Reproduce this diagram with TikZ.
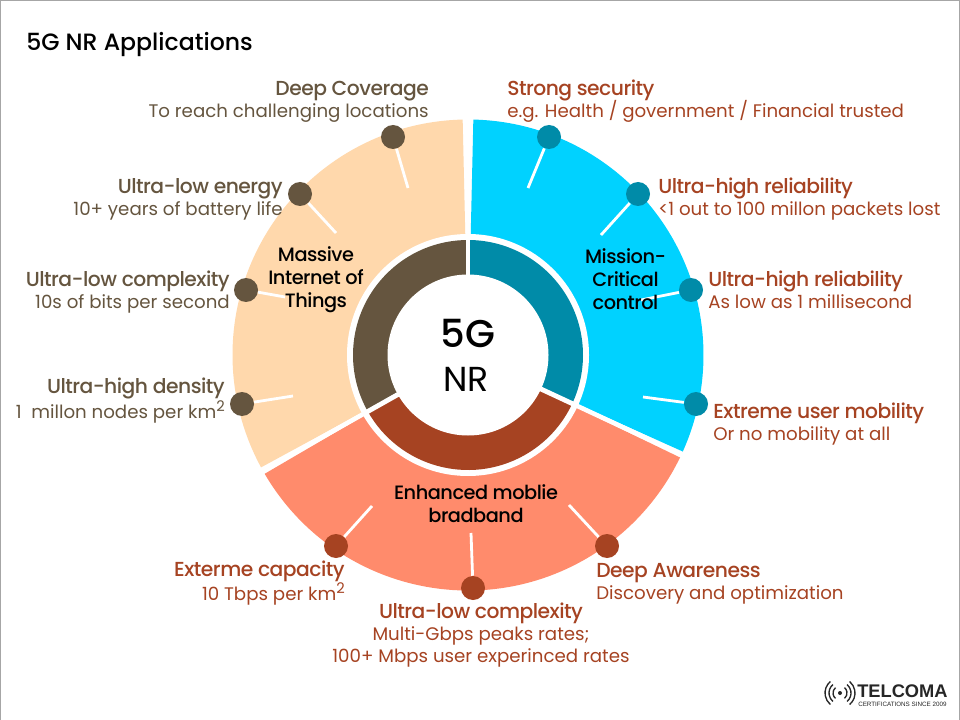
\documentclass[tikz,border=0pt]{standalone}
\usepackage{fontspec}
\setmainfont{Poppins}
\newfontfamily\medfont{Poppins Medium}
\newfontfamily\headfont[LetterSpace=-2.5]{Poppins Medium}
\newfontfamily\logofont{Liberation Sans}
\definecolor{peach}{HTML}{FFD8AC}
\definecolor{sky}{HTML}{00D2FF}
\definecolor{salmon}{HTML}{FF8B6C}
\definecolor{umber}{HTML}{65553F}
\definecolor{teal5g}{HTML}{008BA8}
\definecolor{rust}{HTML}{A64322}
\newcommand{\sqk}{km\raisebox{0.42em}{\fontsize{11pt}{11pt}\selectfont 2}}
\tikzset{
  x=0.75pt,y=0.75pt,
  head/.style={inner sep=0,yshift=-0.5pt,font=\headfont\fontsize{15.2pt}{18pt}\selectfont},
  sub/.style={inner sep=0,yshift=-0.5pt,font=\fontsize{13.65pt}{16.5pt}\selectfont},
  inlabel/.style={inner sep=0,align=center,text=black,font=\headfont\fontsize{14.5pt}{17.2pt}\selectfont},
  dot/.style={circle,inner sep=0,minimum size=18pt,draw=none},
  link/.style={line width=2.1pt,white},
  gap/.style={white,line width=3.4pt},
  gapin/.style={white,line width=3.6pt}
}
\begin{document}
\begin{tikzpicture}
\useasboundingbox (0,0) rectangle (960,-720);
\fill[white] (0,0) rectangle (960,-720);
\draw[color=black!35,line width=1.2pt] (0,0) -- (960,0);
\draw[color=black!35,line width=1.2pt] (0,0) -- (0,-720);
\draw[color=black!35,line width=1.2pt] (960,0) -- (960,-720);
\coordinate (c) at (468,-355);
\node[anchor=base west,inner sep=0,font=\medfont\fontsize{17.7pt}{20pt}\selectfont] (title) at (26,-51) {5G NR Applications};
% sectors
\fill[peach] (c) -- ++(91.3:235.5) arc[start angle=91.3,end angle=208.5,radius=235.5] -- cycle;
\fill[sky] (c) -- ++(-24.2:235.5) arc[start angle=-24.2,end angle=88.7,radius=235.5] -- cycle;
\fill[salmon] (c) -- ++(210.3:235.5) arc[start angle=210.3,end angle=334.2,radius=235.5] -- cycle;
\foreach \a in {90,209.4,335} \draw[gap] (c) -- ++(\a:200);
\fill[white] (c) circle[radius=121];
% ring
\fill[umber] (c) -- ++(90:115) arc[start angle=90,end angle=209.4,radius=115] -- cycle;
\fill[teal5g] (c) -- ++(-25:115) arc[start angle=-25,end angle=90,radius=115] -- cycle;
\fill[rust] (c) -- ++(209.4:115) arc[start angle=209.4,end angle=335,radius=115] -- cycle;
\foreach \a in {90,209.4,335} \draw[gapin] (c) -- ++(\a:118);
\fill[white] (c) circle[radius=80.5];
\node[inner sep=0,anchor=base,font=\medfont\fontsize{29pt}{30pt}\selectfont] (fiveg) at (468,-347) {5G};
\node[inner sep=0,anchor=base,font=\fontsize{26pt}{30pt}\selectfont] (nr) at (466,-391) {NR};
% connector ends
\coordinate (e1) at (408,-188); \coordinate (e2) at (336,-233);
\coordinate (e3) at (285,-297); \coordinate (e4) at (293,-396);
\coordinate (e5) at (528,-188); \coordinate (e6) at (601,-235);
\coordinate (e7) at (641,-300); \coordinate (e8) at (643,-397);
\coordinate (e9) at (372,-506); \coordinate (e10) at (471,-533);
\coordinate (e11) at (569,-505);
% dots
\node[dot,fill=umber] (d1) at (393,-137) {};
\node[dot,fill=umber] (d2) at (300,-194) {};
\node[dot,fill=umber] (d3) at (246,-290) {};
\node[dot,fill=umber] (d4) at (242,-404) {};
\node[dot,fill=teal5g] (d5) at (549,-137) {};
\node[dot,fill=teal5g] (d6) at (638,-194) {};
\node[dot,fill=teal5g] (d7) at (691,-290) {};
\node[dot,fill=teal5g] (d8) at (696,-404) {};
\node[dot,fill=rust] (d9) at (336,-546) {};
\node[dot,fill=rust] (d10) at (473,-588) {};
\node[dot,fill=rust] (d11) at (607,-546) {};
\foreach \i in {1,...,11} \draw[link] (d\i) -- (e\i);
% inner labels (above the connectors)
\node[inlabel] (miot) at (316,-279.5) {Massive\\Internet of\\Things};
\node[inlabel] (mcc) at (625.5,-279.5) {Mission-\\Critical\\control};
\node[inlabel] (emb) at (476,-504) {Enhanced moblie\\bradband};
% labels left
\begin{scope}[text=umber]
\node[head,anchor=base east] (h1) at (429,-95) {Deep Coverage};
\node[sub,anchor=base east] (s1) at (429,-117) {To reach challenging locations};
\node[head,anchor=base east] (h2) at (283,-193) {Ultra-low energy};
\node[sub,anchor=base east] (s2) at (283,-215) {10+ years of battery life};
\node[head,anchor=base east] (h3) at (230,-286) {Ultra-low complexity};
\node[sub,anchor=base east] (s3) at (230,-308) {10s of bits per second};
\node[head,anchor=base east] (h4) at (225,-393) {Ultra-high density};
\node[sub,anchor=base east] (s4) at (225,-418) {1\ \ millon nodes per \sqk};
\end{scope}
\begin{scope}[text=rust]
\node[head,anchor=base west] (h5) at (507,-95) {Strong security};
\node[sub,anchor=base west] (s5) at (507,-117) {e.g. Health / government / Financial trusted};
\node[head,anchor=base west] (h6) at (658,-193) {Ultra-high reliability};
\node[sub,anchor=base west] (s6) at (658,-215) {<1 out to 100 millon packets lost};
\node[head,anchor=base west] (h7) at (708,-286) {Ultra-high reliability};
\node[sub,anchor=base west] (s7) at (708,-308) {As low as 1 millisecond};
\node[head,anchor=base west] (h8) at (713,-418) {Extreme user mobility};
\node[sub,anchor=base west] (s8) at (713,-440) {Or no mobility at all};
\node[head,anchor=base east] (h9) at (345,-576) {Exterme capacity};
\node[sub,anchor=base east] (s9) at (345,-600) {10 Tbps per \sqk};
\node[head,anchor=base] (h10) at (481,-618) {Ultra-low complexity};
\node[sub,anchor=base,align=center] (s10) at (481,-640) {Multi-Gbps peaks rates;};
\node[sub,anchor=base,align=center] (s11) at (481,-662) {100+ Mbps user experinced rates};
\node[head,anchor=base west] (h11) at (596,-577) {Deep Awareness};
\node[sub,anchor=base west] (s12) at (596,-599) {Discovery and optimization};
\end{scope}
% logo
\fill[color=black!85] (840,-693) circle[radius=2];
\foreach \r in {7,11,15} {
  \draw[color=black!85,line width=1pt] (840,-693) ++(-50:\r) arc[start angle=-50,end angle=50,radius=\r];
  \draw[color=black!85,line width=1pt] (840,-693) ++(130:\r) arc[start angle=130,end angle=230,radius=\r];
}
\node[anchor=base west,inner sep=0,text=black!85,font=\logofont\bfseries\fontsize{13.7pt}{15pt}\selectfont] (logo) at (857,-697) {TELCOMA};
\node[anchor=base west,inner sep=0,text=black!85,font=\logofont\fontsize{4.7pt}{6pt}\selectfont] (logosub) at (858,-706) {CERTIFICATIONS SINCE 2009};
\end{tikzpicture}
\end{document}
